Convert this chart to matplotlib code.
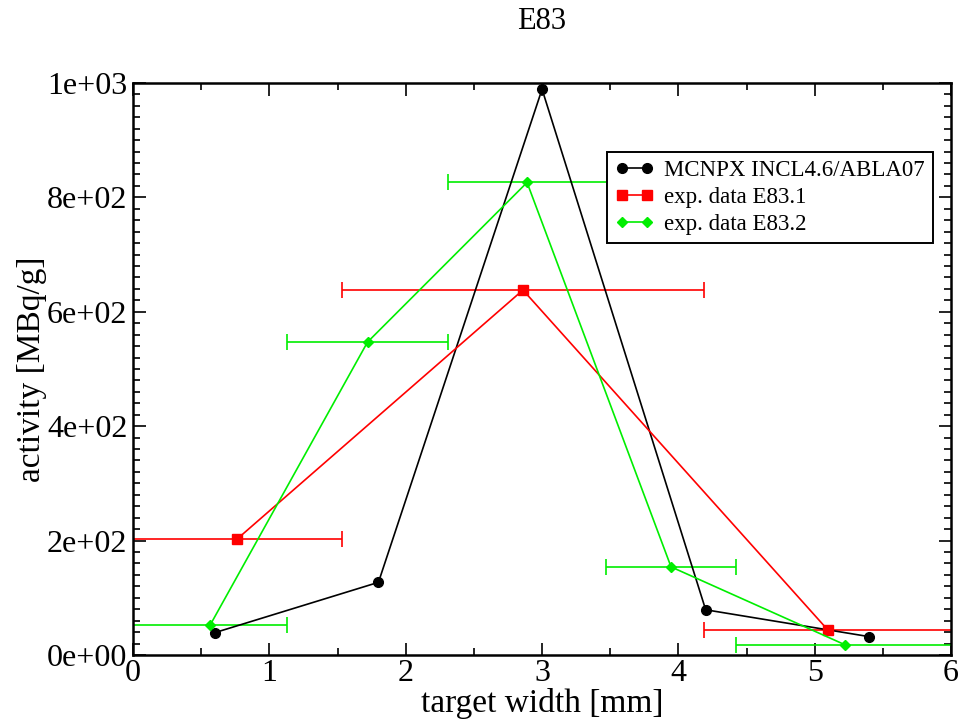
import matplotlib
matplotlib.use("Agg")
import matplotlib.pyplot as plt
from matplotlib.ticker import MultipleLocator, FuncFormatter

plt.rcParams["font.family"] = ["Liberation Serif", "DejaVu Serif"]

# MCNPX simulation
simX = [0.6, 1.8, 3.0, 4.2, 5.4]
simY = [39, 127, 989, 79, 32]

# experiment E83.1 (x error = half bin width)
e1X = [0.765, 2.86, 5.095]
e1Y = [203, 638, 44]
e1Err = [0.768, 1.33, 0.91]

# experiment E83.2
e2X = [0.565, 1.72, 2.89, 3.946, 5.22]
e2Y = [52, 547, 826, 154, 18]
e2Err = [0.565, 0.59, 0.583, 0.478, 0.8]

RED = "#ff0000"
GREEN = "#00ee00"

fig = plt.figure(figsize=(9.64, 7.25), dpi=100)
ax = fig.add_axes([0.138, 0.0966, 0.8486, 0.789])

ax.errorbar(e1X, e1Y, xerr=e1Err, fmt="none", ecolor=RED, elinewidth=1.2,
            capsize=6, capthick=1.2, zorder=2)
ax.errorbar(e2X, e2Y, xerr=e2Err, fmt="none", ecolor=GREEN, elinewidth=1.2,
            capsize=6, capthick=1.2, zorder=2)

ax.plot(simX, simY, "-o", color="black", lw=1.2, ms=7, label="MCNPX INCL4.6/ABLA07", zorder=3)
ax.plot(e1X, e1Y, "-s", color=RED, lw=1.2, ms=6.5, label="exp. data E83.1", zorder=3)
ax.plot(e2X, e2Y, "-D", color=GREEN, lw=1.2, ms=5.5, label="exp. data E83.2", zorder=3)

ax.set_xlim(0, 6)
ax.set_ylim(0, 1000)
ax.xaxis.set_major_locator(MultipleLocator(1))
ax.xaxis.set_minor_locator(MultipleLocator(0.5))
ax.yaxis.set_major_locator(MultipleLocator(200))
ax.yaxis.set_minor_locator(MultipleLocator(20))
ax.yaxis.set_major_formatter(FuncFormatter(lambda v, p: "{:.0e}".format(v)))
ax.tick_params(which="both", direction="in", top=True, right=True, width=1.2,
               labelsize=23)
ax.tick_params(which="major", length=9)
ax.tick_params(which="minor", length=5)
ax.tick_params(axis="x", pad=3)
ax.tick_params(axis="y", pad=4)
for s in ax.spines.values():
    s.set_linewidth(1.8)

ax.set_xlabel("target width [mm]", fontsize=24, labelpad=0)
ax.set_ylabel("activity [MBq/g]", fontsize=24, labelpad=0)
fig.text(0.562, 0.97, "E83", fontsize=22, ha="center", va="center")

leg = ax.legend(loc="upper left", bbox_to_anchor=(0.579, 0.879), borderaxespad=0,
                numpoints=2, fontsize=16.5, handlelength=1.7, handletextpad=0.45,
                labelspacing=0.25, borderpad=0.35, fancybox=False, framealpha=1,
                edgecolor="black")
leg.get_frame().set_linewidth(1.4)

fig.savefig("out.png", dpi=100)
